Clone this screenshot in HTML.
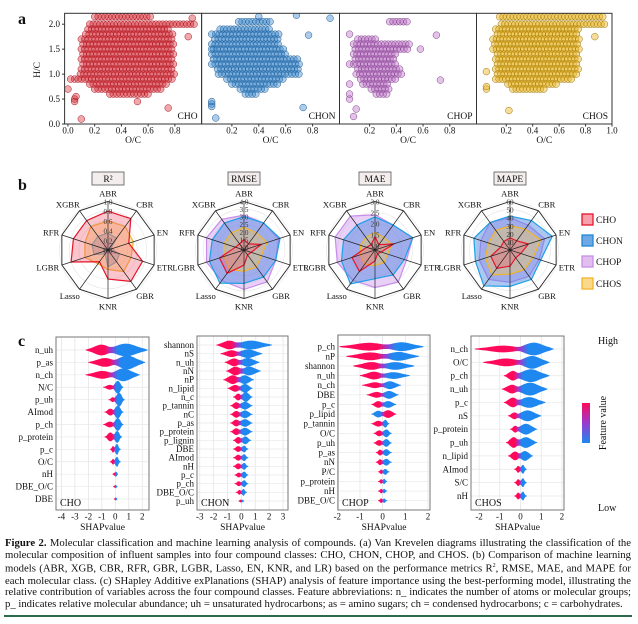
<!DOCTYPE html>
<html><head><meta charset="utf-8">
<style>
html,body{margin:0;padding:0;background:#fff;}
#wrap{position:relative;width:638px;height:624px;overflow:hidden;font-family:"Liberation Serif",serif;}
svg{position:absolute;left:0;top:0;}
#cap{position:absolute;left:5px;top:538px;width:626px;font-size:10.7px;line-height:11.7px;text-align:justify;color:#111;}
#rule{position:absolute;left:4px;top:615px;width:628px;height:1.5px;background:#2a6b4a;}
</style></head>
<body>
<div id="wrap">
<svg id="fig" width="638" height="624" viewBox="0 0 638 624" font-family="Liberation Serif, serif"></svg>
<div id="cap"><b>Figure 2.</b> Molecular classification and machine learning analysis of compounds. (a) Van Krevelen diagrams illustrating the classification of the molecular composition of influent samples into four compound classes: CHO, CHON, CHOP, and CHOS. (b) Comparison of machine learning models (ABR, XGB, CBR, RFR, GBR, LGBR, Lasso, EN, KNR, and LR) based on the performance metrics R<sup style="font-size:6px">2</sup>, RMSE, MAE, and MAPE for each molecular class. (c) SHapley Additive exPlanations (SHAP) analysis of feature importance using the best-performing model, illustrating the relative contribution of variables across the four compound classes. Feature abbreviations: n_ indicates the number of atoms or molecular groups; p_ indicates relative molecular abundance; uh = unsaturated hydrocarbons; as = amino sugars; ch = condensed hydrocarbons; c = carbohydrates.</div>
<div id="rule"></div>
</div>
<script>
// ---------- Panel a data: density bands [H/C, O/C min, O/C max] and outliers [O/C, H/C]
const vkNames=['CHO','CHON','CHOP','CHOS'];
const choBands=[[2.15,0.2,0.62],[2.0,0.15,0.95],[1.9,0.15,0.75],[1.8,0.12,0.8],[1.7,0.1,0.8],[1.6,0.1,0.8],[1.5,0.1,0.8],[1.4,0.1,0.8],[1.3,0.1,0.8],[1.2,0.1,0.8],[1.1,0.1,0.8],[1.0,0.08,0.8],[0.9,0.05,0.78],[0.8,0.15,0.75],[0.7,0.2,0.7],[0.6,0.3,0.6]];
const choOut=[[0.05,0.5],[0.05,0.45],[0.1,0.1],[0.75,0.32],[0.52,0.45],[0.9,1.75],[0.0,0.7],[0.02,0.9],[0.06,0.55],[0.93,2.12]];
const chonBands=[[2.05,0.25,0.5],[1.9,0.1,0.5],[1.8,0.08,0.55],[1.7,0.06,0.55],[1.6,0.05,0.55],[1.5,0.05,0.6],[1.4,0.05,0.6],[1.3,0.05,0.7],[1.2,0.05,0.7],[1.1,0.08,0.7],[1.0,0.1,0.7],[0.9,0.15,0.6],[0.8,0.2,0.55],[0.7,0.25,0.45],[0.6,0.3,0.4]];
const chonOut=[[0.05,1.8],[0.05,0.4],[0.05,0.35],[0.05,0.45],[0.08,0.12],[0.73,0.33],[0.77,1.78],[0.93,2.12],[0.68,2.18],[0.4,2.15],[0.05,1.5]];
const chopBands=[[2.05,0.35,0.5],[1.7,0.1,0.25],[1.6,0.08,0.5],[1.5,0.08,0.5],[1.4,0.08,0.4],[1.3,0.08,0.4],[1.2,0.08,0.4],[1.1,0.1,0.45],[1.0,0.1,0.45],[0.9,0.12,0.4],[0.8,0.15,0.35],[0.7,0.2,0.35],[0.6,0.25,0.35]];
const chopOut=[[0.05,1.8],[0.05,0.5],[0.05,0.6],[0.05,1.2],[0.05,0.8],[0.08,0.15],[0.1,0.3],[0.7,1.78],[0.73,0.88],[0.58,1.5]];
const chosBands=[[2.15,0.15,0.95],[2.0,0.15,0.95],[1.9,0.12,0.75],[1.8,0.12,0.75],[1.7,0.1,0.75],[1.6,0.1,0.75],[1.5,0.1,0.75],[1.4,0.12,0.75],[1.3,0.12,0.75],[1.2,0.12,0.75],[1.1,0.12,0.75],[1.0,0.12,0.75],[0.9,0.12,0.7],[0.8,0.2,0.6],[0.7,0.25,0.5]];
const chosOut=[[0.05,0.7],[0.22,0.27],[0.05,1.05],[0.87,1.75],[0.05,0.75]];
const vkYTicks=[0.0,0.5,1.0,1.5,2.0];
const vkXTicks=[[0.0,0.2,0.4,0.6,0.8],[0.2,0.4,0.6,0.8],[0.2,0.4,0.6,0.8],[0.2,0.4,0.6,0.8,1.0]];

// ---------- Panel b data (radar)
const radarAxes=['ABR','CBR','EN','ETR','GBR','KNR','Lasso','LGBR','RFR','XGBR'];
const radarMetrics=['R²','RMSE','MAE','MAPE'];
const r2Ticks=['1.0','0.8','0.6','0.4','0.2','0.0'];
const r2CHO=[0.8,0.8,0.45,0.75,0.8,0.6,0.3,0.8,0.75,0.75];
const r2CHON=[0.35,0.3,0.05,0.25,0.3,0.35,0.1,0.3,0.35,0.35];
const r2CHOP=[0.15,0.1,0.1,0.2,0.1,0.05,0.1,0.1,0.1,0.1];
const r2CHOS=[0.6,0.6,0.55,0.5,0.55,0.4,0.35,0.5,0.5,0.6];
const rmseTicks=['4.0','3.5','3.0','2.5','2.0','1.5','1.0'];
const rmseCHO=[1.5,1.3,2.0,1.3,1.2,1.8,2.7,2.5,1.4,1.3];
const rmseCHON=[3.0,3.0,3.3,3.0,3.0,3.0,3.5,3.2,3.0,3.0];
const rmseCHOP=[3.1,3.0,3.2,3.0,3.4,3.4,3.3,3.4,3.4,3.3];
const rmseCHOS=[2.3,2.2,2.4,2.0,2.2,2.2,2.4,2.2,2.2,2.2];
const maeTicks=['3.0','2.5','2.0','1.5','1.0'];
const maeCHO=[1.4,1.1,1.7,1.1,1.0,1.3,2.0,1.9,1.2,1.1];
const maeCHON=[2.3,2.2,2.6,2.2,2.2,2.1,2.7,2.4,2.3,2.2];
const maeCHOP=[2.4,2.2,2.6,2.3,2.6,2.5,2.5,2.6,2.7,2.7];
const maeCHOS=[1.6,1.5,1.6,1.4,1.5,1.5,1.6,1.5,1.5,1.5];
const mapeTicks=['60','50','40','30','20','10'];
const mapeCHO=[15,14,24,14,12,20,28,25,12,13];
const mapeCHON=[42,45,55,40,45,45,55,45,47,42];
const mapeCHOP=[40,38,45,38,40,40,45,40,38,42];
const mapeCHOS=[30,32,40,30,30,30,38,32,28,30];

// ---------- Panel c data (SHAP): [feature, lo, mid, hi, leftThick, rightThick, reversed]
const shapCHO=[['n_uh',-2.2,-0.3,2.4,5,6,0],['p_as',-2.0,0.0,2.2,4,6.5,0],['n_ch',-2.2,-0.2,1.8,3.5,6,0],['N/C',-0.9,-0.1,0.6,2,6,0],['p_uh',-0.5,0.0,0.7,2,6.5,0],['AImod',-0.8,-0.1,0.6,3,6,0],['p_ch',-0.9,-0.1,0.6,2.5,6,0],['p_protein',-0.8,-0.1,0.5,4,5.5,0],['p_c',-0.4,-0.05,0.4,3,5,0],['O/C',-0.4,-0.05,0.4,2.5,4.5,0],['nH',-0.2,0.0,0.2,2,3.5,0],['DBE_O/C',-0.15,0.0,0.15,1.5,2.5,0],['DBE',-0.1,0.0,0.15,1.5,2.5,0]];
const shapCHON=[['shannon',-1.8,-0.3,2.2,4,4,0],['nS',-1.5,-0.2,1.5,3,4,0],['n_uh',-1.2,-0.1,1.3,3.5,4,0],['nN',-1.1,0.0,1.4,4,4,0],['nP',-1.3,-0.2,0.9,4,4,0],['n_lipid',-1.0,-0.1,0.8,3,4,0],['n_c',-0.6,0.0,0.8,3,4.5,0],['p_tannin',-0.8,-0.1,0.8,3,3.5,0],['nC',-0.8,-0.1,0.8,3,3.5,0],['p_as',-0.8,-0.1,0.8,3,3.5,0],['p_protein',-0.8,-0.1,0.8,3,3.5,0],['p_lignin',-0.6,0.0,0.7,3,3.5,0],['DBE',-0.6,0.0,0.5,2.5,3,0],['AImod',-0.6,0.0,0.5,2.5,3,0],['nH',-0.6,0.0,0.5,2.5,3,0],['p_c',-0.5,0.0,0.5,2,3,0],['p_ch',-0.5,0.0,0.5,2,3,0],['DBE_O/C',-0.4,0.0,0.4,2,3,0],['p_uh',-0.2,0.0,0.2,1.5,1.5,0]];
const shapCHOP=[['p_ch',-1.9,0.2,1.8,3.5,4,0],['nP',-1.6,0.1,1.6,3.5,4,0],['shannon',-1.3,0.0,1.4,3.5,3.5,0],['n_uh',-1.0,0.0,1.2,3.5,3,0],['n_ch',-0.9,0.0,0.8,2.5,3.5,0],['DBE',-0.7,0.0,0.7,2.5,3.5,0],['p_c',-0.5,0.0,0.6,3,3,0],['p_lipid',-0.5,0.0,0.6,3,3.5,1],['p_tannin',-0.5,0.0,0.3,2.5,3.5,0],['O/C',-0.4,0.0,0.4,2.5,3.5,0],['p_uh',-0.4,0.0,0.4,2.5,3.5,0],['p_as',-0.3,0.0,0.4,2.5,3,0],['nN',-0.3,0.0,0.4,2.5,3,0],['P/C',-0.2,0.0,0.3,2,2.5,0],['p_protein',-0.2,0.0,0.2,2,2.5,0],['nH',-0.2,0.0,0.2,2,2,0],['DBE_O/C',-0.2,0.0,0.2,2,2,0]];
const shapCHOS=[['n_ch',-2.2,0.0,1.6,3,6,0],['O/C',-1.8,0.0,1.4,3.5,6,0],['p_ch',-0.8,-0.1,1.4,4.5,6,0],['n_uh',-0.9,-0.1,1.3,4,6,0],['p_c',-0.8,-0.1,1.2,4.5,5,0],['nS',-0.6,-0.1,1.0,3,5,0],['p_protein',-0.5,-0.1,0.8,3,5,0],['p_uh',-0.7,-0.1,0.8,5,5,0],['n_lipid',-0.6,-0.05,0.6,4,4.5,0],['AImod',-0.3,0.0,0.3,3,4,0],['S/C',-0.3,0.0,0.3,3,4,0],['nH',-0.3,0.0,0.3,3,4,0]];
const shapTicks=[[-4,-3,-2,-1,0,1,2],[-3,-2,-1,0,1,2,3],[-2,-1,0,1,2],[-2,-1,0,1,2]];

const NS='http://www.w3.org/2000/svg';
const svg=document.getElementById('fig');
function mk(tag,attrs,parent){const e=document.createElementNS(NS,tag);for(const k in attrs)e.setAttribute(k,attrs[k]);(parent||svg).appendChild(e);return e;}
function txt(x,y,s,size,anchor,parent,extra){const t=mk('text',Object.assign({x:x,y:y,'font-size':size,'text-anchor':anchor||'start',fill:'#111'},extra||{}),parent);t.textContent=s;return t;}
const defs=mk('defs',{});

['a','b','c'].forEach((L,i)=>{const t=txt(18,[24,190,346][i],L,16,'start',svg,{'font-weight':'bold'});

});

// ---------------- Panel a
const vkFrames=[[64.6,201.6],[201.6,339.5],[339.5,476.5],[476.5,612]];
const vkTop=13.3,vkBot=124;
const vkY=v=>vkBot-v*49.9;
const vkBandsAll=[choBands,chonBands,chopBands,chosBands];
const vkOutAll=[choOut,chonOut,chopOut,chosOut];
const vkFill=['rgba(215,40,50,0.4)','rgba(45,130,205,0.4)','rgba(185,105,195,0.4)','rgba(235,180,30,0.45)'];
const vkStroke=['#a8121e','#1e5a92','#7e3f8a','#9a7400'];
vkFrames.forEach((f,p)=>{
  const g=mk('g',{});
  
  
  const cp=mk('clipPath',{id:'vkc'+p},defs);mk('rect',{x:f[0],y:vkTop,width:f[1]-f[0],height:vkBot-vkTop},cp);
  const xs=v=>f[0]+(v+0.025)/(1.025)*(f[1]-f[0]);
  const pg=mk('g',{'clip-path':'url(#vkc'+p+')'},g);
  vkBandsAll[p].forEach((b,bi)=>{const off=(bi%2)*0.013;for(let o=b[1]+off;o<=b[2]+1e-6;o+=0.026){const c=mk('circle',{cx:xs(o),cy:vkY(b[0]),r:3.4,fill:vkFill[p],stroke:vkStroke[p],'stroke-width':0.5},pg);
    
    }});
  vkOutAll[p].forEach(o=>{const c=mk('circle',{cx:xs(o[0]),cy:vkY(o[1]),r:3.4,fill:vkFill[p],stroke:vkStroke[p],'stroke-width':0.5},pg);
    
    });
  const fr=mk('rect',{x:f[0],y:vkTop,width:f[1]-f[0],height:vkBot-vkTop,fill:'none',stroke:'#333','stroke-width':1},g);
  
  
  vkXTicks[p].forEach(v=>{mk('line',{x1:xs(v),x2:xs(v),y1:vkBot,y2:vkBot+2.5,stroke:'#333'},g);
    const t=txt(xs(v),vkBot+9.5,v.toFixed(1),9,'middle',g);
    
    });
  const xl=txt((f[0]+f[1])/2,143,'O/C',9.5,'middle',g);
  
  
  const cl=txt(f[1]-4,119,vkNames[p],9.5,'end',g);
  
  
});
vkYTicks.forEach(v=>{mk('line',{x1:62,x2:64.6,y1:vkY(v),y2:vkY(v),stroke:'#333'});
  const t=txt(60,vkY(v)+3,v.toFixed(1),9,'end');
  
  });
const yl=txt(0,0,'H/C',9.5,'middle',svg,{transform:'translate(40,70) rotate(-90)'});



// ---------------- Panel b
const radarCx=[108,244,375,510],radarCy=250,radarR=48.5;
const radarDom=[[0,1],[0.8,4],[0.8,3],[0,60]];
const radarTickVals=[r2Ticks,rmseTicks,maeTicks,mapeTicks];
const radarSeries=[[r2CHOP,r2CHON,r2CHOS,r2CHO],[rmseCHOP,rmseCHON,rmseCHOS,rmseCHO],[maeCHOP,maeCHON,maeCHOS,maeCHO],[mapeCHOP,mapeCHON,mapeCHOS,mapeCHO]];
const serNames=['chop','chon','chos','cho'];
const serFill=['rgba(205,150,235,0.45)','rgba(70,130,225,0.45)','rgba(250,200,80,0.4)','rgba(240,90,110,0.35)'];
const serStroke=['#c88ee8','#1ea0e6','#f2b52a','#e5152b'];
radarCx.forEach((cx,m)=>{
  const g=mk('g',{});
  
  
  const ang=i=>(i*36-90)*Math.PI/180;
  const rs=v=>Math.max(0,(v-radarDom[m][0])/(radarDom[m][1]-radarDom[m][0]))*radarR;
  const pt=(i,r)=>[cx+r*Math.cos(ang(i)),radarCy+r*Math.sin(ang(i))];
  radarTickVals[m].forEach(s=>{mk('circle',{cx:cx,cy:radarCy,r:rs(parseFloat(s)),fill:'none',stroke:'#e4e4e4','stroke-width':0.6},g);});
  radarSeries[m].forEach((ser,s)=>{
    const pts=ser.map((v,i)=>pt(i,rs(v)).join(',')).join(' ');
    const pl=mk('polygon',{points:pts,fill:serFill[s],stroke:serStroke[s],'stroke-width':1.2},g);
    
    
  });
  const outer=radarAxes.map((a,i)=>pt(i,radarR).join(',')).join(' ');
  mk('polygon',{points:outer,fill:'none',stroke:'#222','stroke-width':0.9},g);
  radarAxes.forEach((a,i)=>{const p=pt(i,radarR);mk('line',{x1:cx,y1:radarCy,x2:p[0],y2:p[1],stroke:'#222','stroke-width':0.7},g);
    const lp=pt(i,radarR+8);const t=txt(lp[0],lp[1]+3.2,a,8.6,Math.abs(lp[0]-cx)<3?'middle':(lp[0]>cx?'start':'end'),g);
    if(Math.abs(lp[0]-cx)>3){t.setAttribute('x',lp[0]+(lp[0]>cx?-5:5));}
    
    });
  radarTickVals[m].forEach(s=>{const t=txt(cx,radarCy-rs(parseFloat(s))+3,s,7.2,'middle',g,{fill:'#333'});
    
    });
  const tb=mk('rect',{x:cx-16,y:172,width:32,height:13,fill:'#f3eded',stroke:'#555','stroke-width':0.8},g);
  
  
  const tt=txt(cx,182,radarMetrics[m],9.5,'middle',g);
  
  
});
const legNames=['CHO','CHON','CHOP','CHOS'];
const legFill=['#f7a0ac','#6ea9e6','#e2bdf0','#fbd98a'];
const legStroke=['#e5152b','#1e8ad8','#c88ee8','#f2b52a'];
legNames.forEach((n,i)=>{const y=[214,235,256,278][i];
  const r=mk('rect',{x:582,y:y,width:11,height:11,fill:legFill[i],stroke:legStroke[i],'stroke-width':1.3});
  
  
  const t=txt(596,y+9,n,9.5,'start');
  
  });

// ---------------- Panel c
const shapFrames=[[56,149,337,510],[197,288,336,510],[338,430,335,510],[471,564,336,510]];
const shapDom=[[-4.4,2.5],[-3.2,3.36],[-1.97,2.09],[-2.39,2.1]];
const shapRowY=[[350,499],[345,501],[346.7,500.7],[349,496]];
const shapAll=[shapCHO,shapCHON,shapCHOP,shapCHOS];
const shapNames=['CHO','CHON','CHOP','CHOS'];
const PINK='#ff0a5a',MID='#9a3ad0',BLUE='#1e88f0';
shapFrames.forEach((f,p)=>{
  const g=mk('g',{});
  
  
  const xs=v=>f[0]+(v-shapDom[p][0])/(shapDom[p][1]-shapDom[p][0])*(f[1]-f[0]);
  const feats=shapAll[p];const n=feats.length;
  const ys=i=>shapRowY[p][0]+i*(shapRowY[p][1]-shapRowY[p][0])/(n-1);
  shapTicks[p].forEach(v=>{mk('line',{x1:xs(v),x2:xs(v),y1:f[2],y2:f[3],stroke:'#e2e2e2','stroke-width':0.7},g);
    const t=txt(xs(v),f[3]+9.5,String(v),9,'middle',g);
    
    });
  feats.forEach((d,i)=>{mk('line',{x1:f[0],x2:f[1],y1:ys(i),y2:ys(i),stroke:'#e8e8e8','stroke-width':0.7},g);});
  feats.forEach((d,i)=>{
    const y=ys(i),lo=xs(d[1]),mid=xs(d[2]),hi=xs(d[3]);
    const gid='sg'+p+'_'+i;
    const lg=mk('linearGradient',{id:gid,gradientUnits:'userSpaceOnUse',x1:lo,x2:hi,y1:0,y2:0},defs);
    const cs=d[6]?[BLUE,MID,PINK]:[PINK,MID,BLUE];
    const midOff=Math.max(0.05,Math.min(0.95,(mid-lo)/Math.max(1,hi-lo)));
    mk('stop',{offset:0,'stop-color':cs[0]},lg);mk('stop',{offset:Math.max(0,midOff-0.1),'stop-color':cs[0]},lg);
    mk('stop',{offset:midOff,'stop-color':cs[1]},lg);mk('stop',{offset:Math.min(1,midOff+0.1),'stop-color':cs[2]},lg);mk('stop',{offset:1,'stop-color':cs[2]},lg);
    // smooth profile: sum of two bumps (left / right lobes), tapered to ends
    const cL=lo+(mid-lo)*0.62,cR=mid+(hi-mid)*0.4;
    const sL=Math.max(1.5,(mid-lo)/2.6),sR=Math.max(1.5,(hi-mid)/2.6);
    const prof=x=>{const a=d[4]*Math.exp(-Math.pow((x-cL)/sL,2)),b=d[5]*Math.exp(-Math.pow((x-cR)/sR,2));
      const e=Math.min(1,(x-lo)/3,(hi-x)/3);return Math.max(a,b,Math.min(d[4],d[5])*0.55*(x>cL&&x<cR?1:0))*Math.max(0,e)+0.4;};
    const N=40;const top=[],bot=[];
    for(let k=0;k<=N;k++){const x=lo+(hi-lo)*k/N;const h=prof(x);top.push([x,y-h]);bot.push([x,y+h]);}
    const path='M'+top.map(q=>q[0].toFixed(1)+','+q[1].toFixed(1)).join(' L')+' L'+bot.reverse().map(q=>q[0].toFixed(1)+','+q[1].toFixed(1)).join(' L')+'Z';
    const v=mk('path',{d:path,fill:'url(#'+gid+')'},g);
    
    
    const t=txt(f[0]-3,y+3,d[0],9,'end',g);
    
    
  });
  const fr=mk('rect',{x:f[0],y:f[2],width:f[1]-f[0],height:f[3]-f[2],fill:'none',stroke:'#777','stroke-width':1},g);
  
  
  const cl=txt(f[0]+4,f[3]-4,shapNames[p],10,'start',g);
  
  
  const xl=txt((f[0]+f[1])/2,f[3]+20,'SHAPvalue',9.5,'middle',g);
  
  
});
const cg=mk('linearGradient',{id:'cbar',x1:0,x2:0,y1:0,y2:1},defs);
mk('stop',{offset:0,'stop-color':PINK},cg);mk('stop',{offset:0.5,'stop-color':MID},cg);mk('stop',{offset:1,'stop-color':BLUE},cg);
const cb=mk('rect',{x:582,y:403,width:8,height:40,fill:'url(#cbar)'});


const hi=txt(598,344,'High',10,'start');


const lo=txt(598,511,'Low',10,'start');


const fv=txt(0,0,'Feature value',10,'middle',svg,{transform:'translate(606,423) rotate(-90)'});


</script>
</body></html>
